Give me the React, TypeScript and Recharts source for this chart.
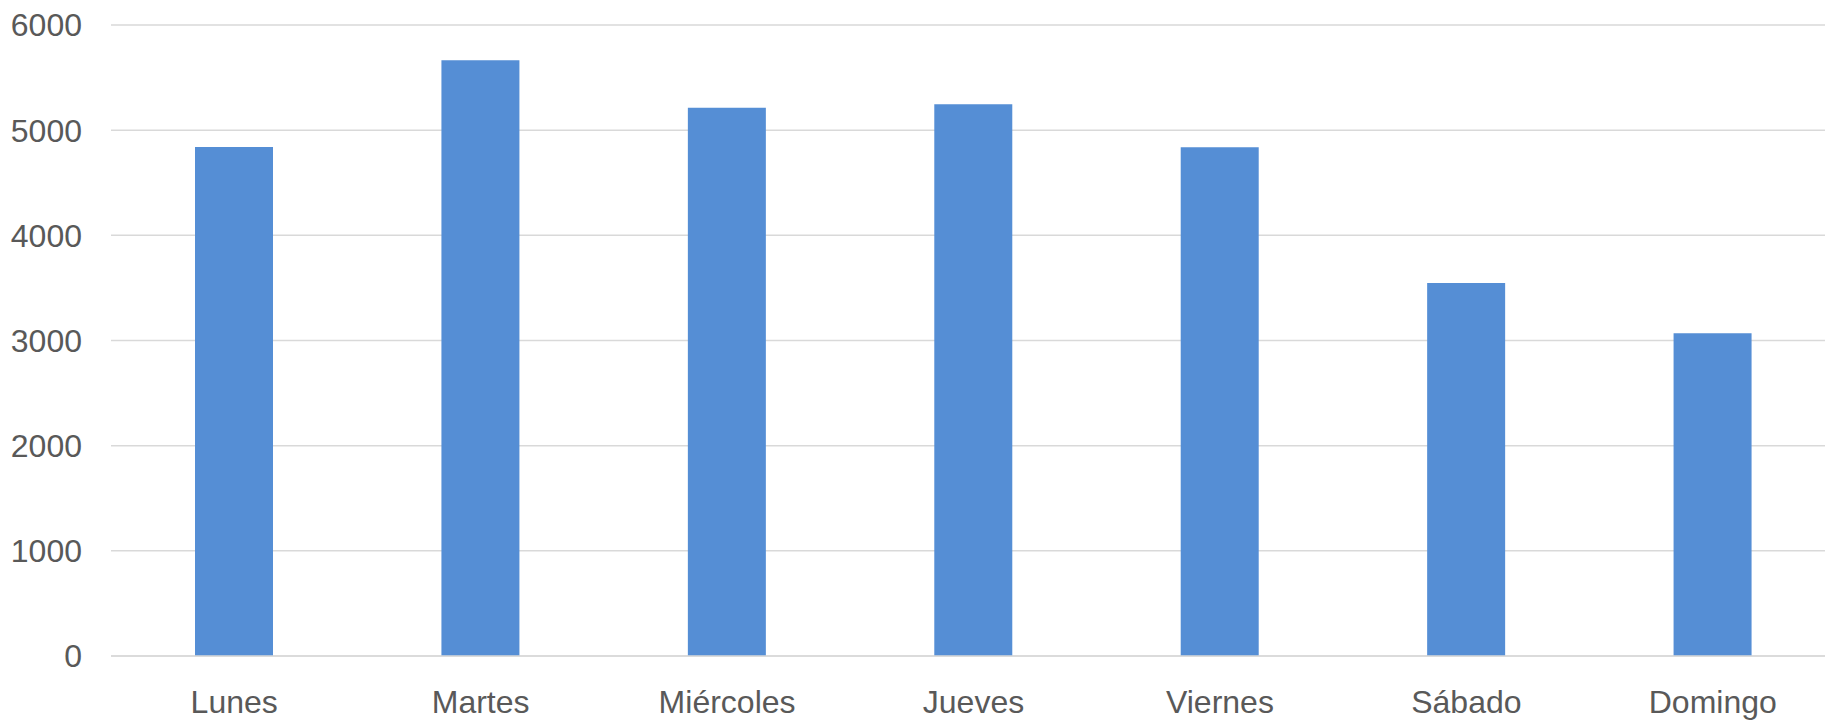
import React from "react";
import { BarChart, Bar, XAxis, YAxis, CartesianGrid } from "recharts";

const categories = ["Lunes", "Martes", "Miércoles", "Jueves", "Viernes", "Sábado", "Domingo"];
const values = [4840, 5665, 5214, 5246, 4837, 3546, 3070];
const yTicks = [0, 1000, 2000, 3000, 4000, 5000, 6000];

const data = categories.map((c, i) => ({ name: c, value: values[i] }));

const FONT = "'Liberation Sans', Arial, Helvetica, sans-serif";
const TEXT = "#595959";
const GRID = "#d9d9d9";

export default function App() {
  return (
    <div style={{ position: "absolute", left: 0, top: 0, width: 1825, height: 720, overflow: "hidden", background: "#fff" }}>
      <BarChart
        width={1836}
        height={720}
        data={data}
        margin={{ top: 25, right: 0, bottom: 0, left: 0 }}
        barCategoryGap="34%"
      >
        <CartesianGrid vertical={false} stroke={GRID} strokeWidth={1.5} />
        <XAxis
          dataKey="name"
          height={64}
          axisLine={{ stroke: GRID, strokeWidth: 1.5 }}
          tickLine={false}
          tickSize={0}
          tickMargin={34}
          tick={{ fill: TEXT, fontSize: 32, fontFamily: FONT }}
        />
        <YAxis
          width={111}
          domain={[0, 6000]}
          ticks={yTicks}
          axisLine={false}
          tickLine={false}
          tickSize={0}
          tickMargin={29}
          tick={{ fill: TEXT, fontSize: 32, fontFamily: FONT }}
        />
        <Bar dataKey="value" fill="#558ed5" barSize={78} isAnimationActive={false} />
      </BarChart>
    </div>
  );
}
